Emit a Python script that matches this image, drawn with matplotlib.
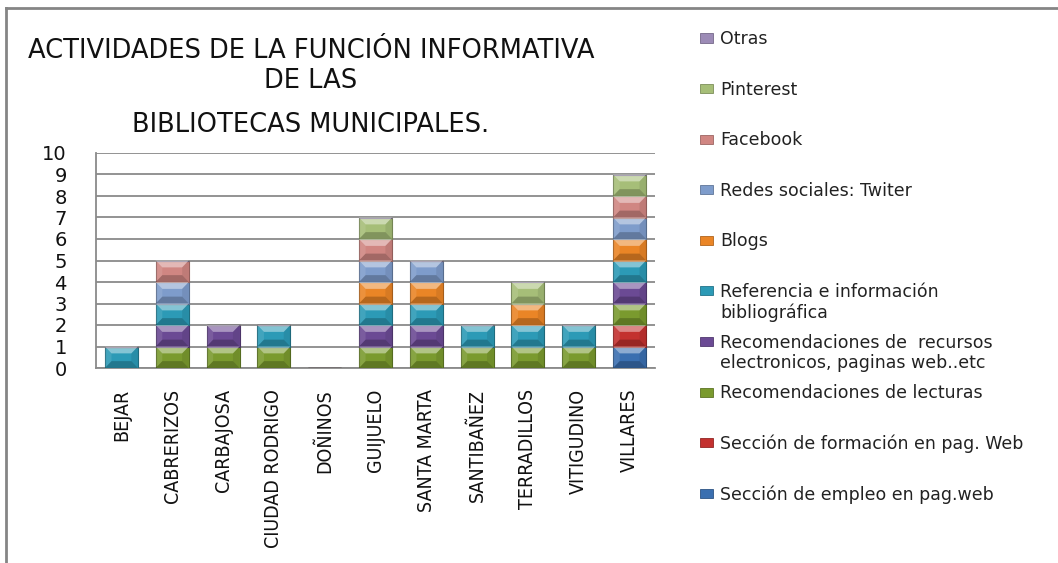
import matplotlib
matplotlib.use("Agg")
import matplotlib.pyplot as plt
from matplotlib.patches import Polygon, Rectangle
from matplotlib.lines import Line2D
from matplotlib import font_manager
import numpy as np

# ---------------- data ----------------
categories = ["BEJAR", "CABRERIZOS", "CARBAJOSA", "CIUDAD RODRIGO", "DOÑINOS",
              "GUIJUELO", "SANTA MARTA", "SANTIBAÑEZ", "TERRADILLOS",
              "VITIGUDINO", "VILLARES"]

empleo     = [0, 0, 0, 0, 0, 0, 0, 0, 0, 0, 1]
formacion  = [0, 0, 0, 0, 0, 0, 0, 0, 0, 0, 1]
lecturas   = [0, 1, 1, 1, 0, 1, 1, 1, 1, 1, 1]
recursos   = [0, 1, 1, 0, 0, 1, 1, 0, 0, 0, 1]
referencia = [1, 1, 0, 1, 0, 1, 1, 1, 1, 1, 1]
blogs      = [0, 0, 0, 0, 0, 1, 1, 0, 1, 0, 1]
twiter     = [0, 1, 0, 0, 0, 1, 1, 0, 0, 0, 1]
facebook   = [0, 1, 0, 0, 0, 1, 0, 0, 0, 0, 1]
pinterest  = [0, 0, 0, 0, 0, 1, 0, 0, 1, 0, 1]
otras      = [0, 0, 0, 0, 0, 0, 0, 0, 0, 0, 0]

series_names = ["Sección de empleo en pag.web",
                "Sección de formación en pag. Web",
                "Recomendaciones de lecturas",
                "Recomendaciones de  recursos\nelectronicos, paginas web..etc",
                "Referencia e información\nbibliográfica",
                "Blogs",
                "Redes sociales: Twiter",
                "Facebook",
                "Pinterest",
                "Otras"]
series_values = [empleo, formacion, lecturas, recursos, referencia,
                 blogs, twiter, facebook, pinterest, otras]
series_colors = ["#3A6FB0", "#C3312F", "#7A9A2E", "#6B4A94", "#2C9AB6",
                 "#EA8526", "#7E9CCB", "#D08682", "#A6BE78", "#9C8BB6"]

yticks = [0, 1, 2, 3, 4, 5, 6, 7, 8, 9, 10]
title_lines = ["ACTIVIDADES DE LA FUNCIÓN INFORMATIVA", "DE LAS",
               "BIBLIOTECAS MUNICIPALES."]

# ---------------- pick a narrow font for category labels ----------------
def find_narrow():
    prefs = ["liberationsansnarrow-regular", "arialnarrow", "dejavusanscondensed.ttf",
             "robotocondensed-regular", "opensans_condensed-regular",
             "opensanscondensed", "notosans-condensed.ttf", "notosanscondensed-regular"]
    files = [f.fname for f in font_manager.fontManager.ttflist]
    low = [(f.lower().replace(" ", "").split("/")[-1], f) for f in files]
    for p in prefs:
        for name, full in low:
            if name.startswith(p.split(".")[0]) and ("bold" not in name and "italic" not in name
                                                      and "oblique" not in name):
                return full
    for name, full in low:
        if ("condensed" in name or "narrow" in name) and "bold" not in name \
                and "italic" not in name and "oblique" not in name and "semi" not in name \
                and "light" not in name and "mono" not in name and "serif" not in name:
            return full
    return None

narrow = find_narrow()
if narrow is not None:
    xlab_fp = font_manager.FontProperties(fname=narrow, size=14)
else:
    xlab_fp = font_manager.FontProperties(family="DejaVu Sans", size=12)

# ---------------- figure ----------------
W, H = 1058, 563
fig = plt.figure(figsize=(W / 100, H / 100), dpi=100)
fig.patch.set_facecolor("white")

def fx(px):
    return px / W

def fy(py):
    return 1 - py / H

# outer border (left and top only)
fig.add_artist(Line2D([fx(6), fx(6)], [fy(8), 0], color="#858585", lw=2))
fig.add_artist(Line2D([fx(6), 1], [fy(8), fy(8)], color="#858585", lw=2))

ax = fig.add_axes([fx(96), fy(368), fx(655) - fx(96), fy(153) - fy(368)])
ax.set_xlim(-0.5, len(categories) - 0.5)
ax.set_ylim(0, 10)

x = np.arange(len(categories))
bottom = np.zeros(len(categories))
barw = 0.65


def shade(c, f):
    r, g, b = matplotlib.colors.to_rgb(c)
    return (r * f, g * f, b * f)


for vals, col in zip(series_values, series_colors):
    bars = ax.bar(x, vals, barw, bottom=bottom, color=col,
                  edgecolor=shade(col, 0.7), linewidth=0.8, zorder=3)
    for p in bars.patches:
        h = p.get_height()
        if h <= 0:
            continue
        x0, y0, w = p.get_x(), p.get_y(), p.get_width()
        x1, y1 = x0 + w, y0 + h
        dx, dy = 0.13, 0.32
        ix0, ix1, iy0, iy1 = x0 + dx, x1 - dx, y0 + dy, y1 - dy
        ax.add_patch(Polygon([(x0, y1), (x1, y1), (ix1, iy1), (ix0, iy1)],
                             closed=True, facecolor="white", alpha=0.42,
                             lw=0, zorder=4))
        ax.add_patch(Polygon([(x0, y0), (x1, y0), (ix1, iy0), (ix0, iy0)],
                             closed=True, facecolor="black", alpha=0.22,
                             lw=0, zorder=4))
        ax.add_patch(Polygon([(x0, y0), (x0, y1), (ix0, iy1), (ix0, iy0)],
                             closed=True, facecolor="white", alpha=0.10,
                             lw=0, zorder=4))
        ax.add_patch(Polygon([(x1, y0), (x1, y1), (ix1, iy1), (ix1, iy0)],
                             closed=True, facecolor="black", alpha=0.08,
                             lw=0, zorder=4))
    bottom = bottom + np.array(vals)

# grid & spines
ax.set_yticks(yticks)
ax.yaxis.grid(True, color="#8A8A8A", linewidth=1.3, zorder=0)
ax.set_axisbelow(True)
for s in ["top", "right"]:
    ax.spines[s].set_visible(False)
for s in ["left", "bottom"]:
    ax.spines[s].set_color("#8A8A8A")
    ax.spines[s].set_linewidth(1.3)
ax.tick_params(axis="both", length=0)
ax.tick_params(axis="y", pad=21, labelsize=14)
ax.set_yticklabels([str(t) for t in yticks], family="DejaVu Sans", color="#111111")

ax.set_xticks(x)
ax.set_xticklabels(categories, rotation=90, fontproperties=xlab_fp, color="#111111")
ax.tick_params(axis="x", pad=15)

# title
title_y = [51, 81, 125]
for line, yy in zip(title_lines, title_y):
    fig.text(fx(311), fy(yy), line, ha="center", va="center",
             fontsize=18.5, family="DejaVu Sans", color="#111111")

# legend (manual, top entry = last series)
n = len(series_names)
for k in range(n):
    idx = n - 1 - k
    yy = 38 + k * 50.6
    col = series_colors[idx]
    fig.add_artist(Rectangle((fx(700), fy(yy + 4.5)), fx(13), 9 / H,
                             facecolor=col, edgecolor=shade(col, 0.75),
                             lw=0.6, transform=fig.transFigure))
    fig.text(fx(720), fy(yy - 8), series_names[idx], ha="left", va="top",
             fontsize=12.5, family="DejaVu Sans", color="#222222",
             linespacing=1.15)

fig.savefig("out.png", dpi=100, facecolor="white")
